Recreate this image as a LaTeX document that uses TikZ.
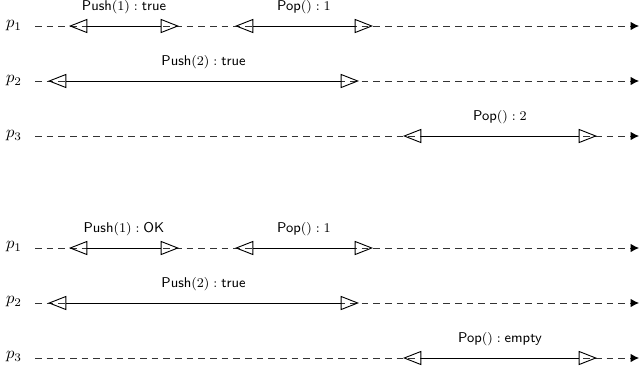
\documentclass[tikz,border=0pt]{standalone}
\usetikzlibrary{arrows.meta}
\begin{document}
\begin{tikzpicture}[x=0.6pt,y=-0.6pt,
  timeline/.style={draw=black!80, line width=0.5pt, dash pattern=on 4pt off 3pt, -{Latex[black,length=5pt,width=5pt]}},
  interval/.style={draw=black, line width=0.55pt, {Triangle[open,length=11pt,width=8.5pt]}-{Triangle[open,length=11pt,width=8.5pt]}},
  oplabel/.style={font=\fontsize{8.5}{10}\selectfont, above=6pt, midway, inner sep=1pt},
  plabel/.style={inner sep=0pt}]
\useasboundingbox (0,0) rectangle (640,373);
% ---------- top history ----------
\node[plabel] (tp1) at (14,26) {$p_1$};
\node[plabel] (tp2) at (14,81) {$p_2$};
\node[plabel] (tp3) at (14,136) {$p_3$};
\coordinate (ts1) at (35,26); \coordinate (te1) at (639,26);
\coordinate (ts2) at (35,81); \coordinate (te2) at (639,81);
\coordinate (ts3) at (35,136); \coordinate (te3) at (639,136);
\draw[timeline] (ts1) -- (te1);
\draw[timeline] (ts2) -- (te2);
\draw[timeline] (ts3) -- (te3);
\coordinate (ta1) at (69,26); \coordinate (tb1) at (179,26);
\coordinate (ta2) at (235,26); \coordinate (tb2) at (373,26);
\coordinate (ta3) at (48,81); \coordinate (tb3) at (359,81);
\coordinate (ta4) at (403,136); \coordinate (tb4) at (597,136);
\draw[interval] (ta1) -- node[oplabel] (tl1) {$\textsf{Push}(1):\textsf{true}$} (tb1);
\draw[interval] (ta2) -- node[oplabel] (tl2) {$\textsf{Pop}():1$} (tb2);
\draw[interval] (ta3) -- node[oplabel] (tl3) {$\textsf{Push}(2):\textsf{true}$} (tb3);
\draw[interval] (ta4) -- node[oplabel] (tl4) {$\textsf{Pop}():2$} (tb4);
% ---------- bottom history ----------
\node[plabel] (bp1) at (14,247) {$p_1$};
\node[plabel] (bp2) at (14,302) {$p_2$};
\node[plabel] (bp3) at (14,357) {$p_3$};
\coordinate (bs1) at (35,248); \coordinate (be1) at (639,248);
\coordinate (bs2) at (35,303); \coordinate (be2) at (639,303);
\coordinate (bs3) at (35,358); \coordinate (be3) at (639,358);
\draw[timeline] (bs1) -- (be1);
\draw[timeline] (bs2) -- (be2);
\draw[timeline] (bs3) -- (be3);
\coordinate (ba1) at (69,248); \coordinate (bb1) at (179,248);
\coordinate (ba2) at (235,248); \coordinate (bb2) at (373,248);
\coordinate (ba3) at (48,303); \coordinate (bb3) at (359,303);
\coordinate (ba4) at (403,358); \coordinate (bb4) at (597,358);
\draw[interval] (ba1) -- node[oplabel] (bl1) {$\textsf{Push}(1):\textsf{OK}$} (bb1);
\draw[interval] (ba2) -- node[oplabel] (bl2) {$\textsf{Pop}():1$} (bb2);
\draw[interval] (ba3) -- node[oplabel] (bl3) {$\textsf{Push}(2):\textsf{true}$} (bb3);
\draw[interval] (ba4) -- node[oplabel] (bl4) {$\textsf{Pop}():\textsf{empty}$} (bb4);
\end{tikzpicture}
\end{document}
